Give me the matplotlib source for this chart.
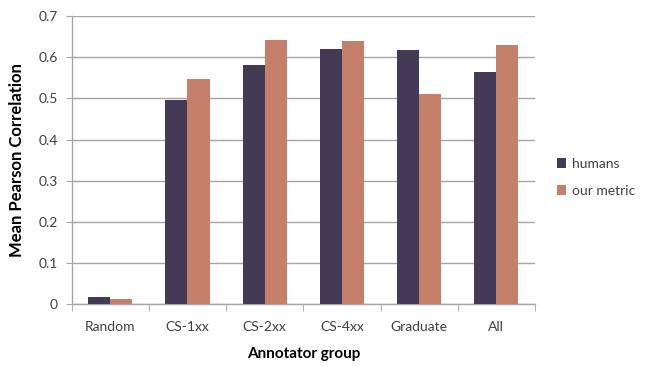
import matplotlib
matplotlib.use("Agg")
import matplotlib.pyplot as plt
import numpy as np

groups = ["Random", "CS-1xx", "CS-2xx", "CS-4xx", "Graduate", "All"]
humans = [0.018, 0.497, 0.581, 0.621, 0.617, 0.564]
our_metric = [0.011, 0.546, 0.641, 0.639, 0.511, 0.631]
y_ticks = [0, 0.1, 0.2, 0.3, 0.4, 0.5, 0.6, 0.7]
y_tick_labels = ["0", "0.1", "0.2", "0.3", "0.4", "0.5", "0.6", "0.7"]

plt.rcParams["font.family"] = ["Lato", "DejaVu Sans"]

fig = plt.figure(figsize=(6.48, 3.67), dpi=100)
ax = fig.add_axes([0.1106, 0.1717, 0.7150, 0.7843])

x = np.arange(len(groups))
w = 0.285
c_h = "#433B55"
c_o = "#C5806B"
ax.bar(x - w / 2, humans, width=w, color=c_h, label="humans", zorder=3)
ax.bar(x + w / 2, our_metric, width=w, color=c_o, label="our metric", zorder=3)

grid_c = "#A6A6A6"
ax.set_ylim(0, 0.7)
ax.set_xlim(-0.5, len(groups) - 0.5)
ax.set_yticks(y_ticks)
ax.set_yticklabels(y_tick_labels, fontsize=10, color="#404040")
ax.yaxis.grid(True, color=grid_c, linewidth=1.0, zorder=0)
ax.set_axisbelow(True)

ax.set_xticks(x)
ax.set_xticklabels(groups, fontsize=10, color="#404040")
ax.set_xticks(np.arange(-0.5, len(groups)), minor=True)
ax.tick_params(axis="x", which="major", length=0, pad=12)
ax.tick_params(axis="x", which="minor", length=5, color=grid_c, direction="out")
ax.tick_params(axis="y", length=4, color=grid_c, direction="out", pad=6)

for s in ["top", "right"]:
    ax.spines[s].set_visible(False)
for s in ["left", "bottom"]:
    ax.spines[s].set_color(grid_c)
    ax.spines[s].set_linewidth(1.0)

ax.set_ylabel("Mean Pearson Correlation", fontsize=12, fontweight="bold", labelpad=10)
ax.set_xlabel("Annotator group", fontsize=11, fontweight="bold", labelpad=10)

ax.legend(loc="center left", bbox_to_anchor=(1.02, 0.44), frameon=False,
          fontsize=10, handlelength=0.7, handleheight=0.7, handletextpad=0.4,
          labelspacing=1.1, labelcolor="#404040")

fig.savefig("out.png", dpi=100)
